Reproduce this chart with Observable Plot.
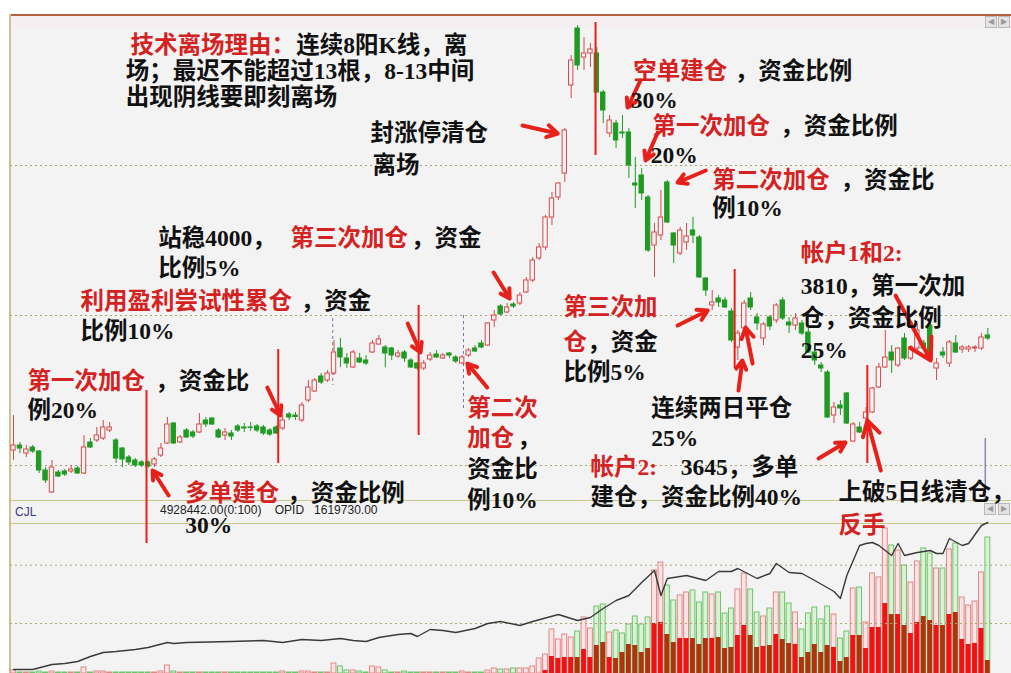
<!DOCTYPE html>
<html><head><meta charset="utf-8">
<script src="https://cdn.jsdelivr.net/npm/d3@7"></script>
<script src="https://cdn.jsdelivr.net/npm/@observablehq/plot@0.6"></script>
<style>
body{margin:0;background:#fff;}
#wrap{position:relative;width:1011px;height:673px;overflow:hidden;background:#fff;font-family:"Liberation Sans",Arial,sans-serif;}
.abs{position:absolute;}
.btn{position:absolute;width:10px;height:10px;border:1px solid #b8b8b8;background:#e4e4e4;color:#9a9a9a;font-size:8px;line-height:10px;text-align:center;}
</style></head><body>
<div id="wrap">
 <div class="abs" style="left:10px;top:14px;width:1001px;height:486px;background:#f3f3f3;"></div>
 <div class="abs" style="left:10px;top:16px;width:1001px;height:11px;background:#f6eff1;"></div>
 <div class="abs" style="left:10px;top:14px;width:1001px;height:2px;background:#b3613c;"></div>
 <div class="abs" style="left:10px;top:500px;width:1001px;height:173px;background:#f3f3f3;"></div>
 <div class="abs" style="left:10px;top:500px;width:1001px;height:1px;background:#c9c88a;"></div>
 <div class="abs" style="left:10px;top:523px;width:1001px;height:1px;background:#c9c88a;"></div>
 <div class="abs" style="left:9px;top:14px;width:2px;height:659px;background:#cdc28a;"></div>
 <div class="abs" style="left:15px;top:505px;font-size:12px;color:#3a3a82;font-family:'Liberation Sans Narrow','Liberation Sans',sans-serif;">CJL</div>
 <div class="abs" style="left:160px;top:503px;font-size:12px;color:#222;font-family:'Liberation Sans Narrow','Liberation Sans',sans-serif;white-space:pre;">4928442.00(0:100)    OPID   1619730.00</div>
 <div class="btn" style="left:985px;top:16px;">&#9664;</div>
 <div class="btn" style="left:998px;top:16px;">&#9654;</div>
 <div class="btn" style="left:984px;top:503px;">&#9664;</div>
 <div class="btn" style="left:998px;top:503px;">&#9654;</div>
 <div id="vol" class="abs" style="left:10px;top:523px;"></div>
 <div id="oi" class="abs" style="left:10px;top:523px;"></div>
 <div id="price" class="abs" style="left:10px;top:14px;"></div>
</div>
<script>
// ---------- candle data (index 0..152) ----------
const OPEN = [3630,3640,3624,3636,3628,3590,3546,3586,3588,3588,
3594,3584,3646,3650,3654,3670,3650,3634,3616,3610,
3606,3606,3602,3620,3644,3684,3646,3670,3666,3666,
3690,3694,3670,3660,3664,3678,3676,3676,3678,3676,
3670,3676,3674,3702,3700,3690,3730,3748,3778,3770,
3784,3834,3814,3796,3814,3810,3826,3842,3836,3834,
3818,3826,3810,3804,3794,3812,3822,3814,3824,3816,
3804,3820,3834,3844,3840,3890,3918,3906,3922,3924,
3946,3970,4014,4036,4096,4136,4184,4360,4474,4416,
4424,4424,4346,4264,4284,4266,4266,4164,4180,4136,
4040,4060,4166,4064,4024,4046,4070,4056,3974,3920,
3934,3930,3908,3836,3874,3934,3896,3854,3896,3890,
3930,3886,3880,3884,3866,3826,3800,3786,3700,3720,
3744,3648,3676,3694,3706,3756,3796,3826,3800,3854,
3814,3834,3844,3880,3794,3826,3804,3844,3832,3832,
3834,3834,3860];
const CLOSE = [3640,3634,3632,3628,3590,3570,3596,3578,3582,3592,
3584,3636,3636,3660,3676,3676,3614,3612,3606,3600,
3600,3598,3612,3634,3682,3644,3656,3656,3658,3682,
3682,3682,3656,3666,3658,3670,3674,3675,3670,3664,
3662,3664,3690,3696,3697,3720,3756,3770,3766,3784,
3826,3816,3804,3826,3806,3804,3844,3852,3824,3820,
3824,3814,3796,3794,3804,3820,3816,3820,3820,3808,
3816,3830,3828,3836,3884,3900,3902,3916,3918,3940,
3970,4010,4036,4096,4134,4164,4270,4410,4400,4424,
4432,4346,4310,4290,4250,4264,4200,4160,4144,4030,
4066,4096,4086,4040,4070,4058,4060,3976,3950,3926,
3926,3916,3850,3864,3924,3916,3884,3882,3878,3920,
3894,3880,3894,3864,3826,3810,3794,3696,3716,3714,
3684,3682,3666,3706,3754,3796,3816,3810,3834,3814,
3836,3870,3834,3820,3804,3820,3846,3826,3836,3836,
3836,3856,3854];
const HIGH = [3700,3646,3640,3640,3630,3596,3610,3590,3592,3600,
3598,3660,3654,3676,3690,3686,3654,3636,3620,3614,
3610,3610,3616,3644,3696,3686,3660,3674,3670,3704,
3696,3696,3674,3674,3670,3682,3684,3686,3682,3680,
3674,3680,3700,3706,3706,3726,3770,3774,3784,3790,
3850,3854,3824,3830,3824,3820,3850,3860,3840,3836,
3830,3830,3814,3806,3810,3826,3830,3824,3826,3820,
3820,3834,3840,3850,3886,3910,3922,3924,3926,3946,
3976,4016,4044,4100,4146,4166,4274,4420,4480,4456,
4444,4436,4350,4300,4290,4300,4274,4216,4194,4140,
4084,4150,4170,4066,4076,4084,4096,4060,3976,3950,
3940,3936,3914,3870,3930,3946,3904,3886,3900,3924,
3936,3896,3904,3890,3874,3840,3806,3790,3726,3730,
3746,3686,3686,3716,3756,3804,3870,3840,3836,3864,
3840,3884,3850,3884,3814,3836,3850,3860,3840,3840,
3840,3864,3874];
const LOW = [3610,3624,3616,3624,3584,3564,3544,3576,3578,3584,
3582,3582,3634,3646,3650,3666,3604,3596,3600,3596,
3596,3594,3596,3616,3642,3642,3644,3654,3654,3664,
3676,3680,3654,3650,3650,3666,3666,3668,3666,3660,
3658,3662,3670,3690,3690,3686,3726,3746,3762,3766,
3780,3796,3794,3794,3804,3800,3824,3840,3796,3810,
3814,3806,3794,3790,3790,3808,3814,3812,3814,3804,
3802,3816,3826,3834,3838,3876,3900,3904,3914,3920,
3944,3966,4010,4030,4080,4130,4166,4334,4390,4390,
4396,4344,4284,4256,4234,4254,4174,4114,4130,4026,
3976,4050,4084,4004,4020,4030,4044,3974,3938,3910,
3916,3914,3846,3810,3870,3910,3870,3840,3870,3884,
3890,3864,3870,3860,3824,3800,3786,3694,3684,3700,
3682,3646,3664,3690,3704,3754,3794,3784,3796,3810,
3810,3830,3830,3814,3770,3814,3796,3824,3824,3826,
3826,3830,3850];
// volume (thousand lots) and the solid inner part of each volume bar
const VOLUME = [108,36,36,36,72,36,72,36,36,36,
36,216,36,72,72,36,36,36,36,36,
36,36,36,72,288,72,36,36,36,36,
36,36,36,36,36,36,36,36,36,36,
36,36,72,36,36,72,72,36,36,36,
360,252,108,108,72,36,252,216,108,36,
36,72,36,36,36,36,36,36,36,36,
72,36,36,36,108,180,144,144,180,180,
180,252,540,684,1584,1224,1404,1296,1512,2016,
1620,2412,2484,1476,1548,1440,1764,2052,1764,2016,
3708,3996,3168,2628,2808,2916,2988,2556,2916,2844,
2916,2160,2340,3024,3600,3024,2196,2052,2340,2916,
2916,2520,2196,1584,2160,2376,1944,2412,2124,1260,
1512,3060,3096,1836,3600,3456,5220,4608,4428,3888,
3276,4032,4500,4320,3780,3780,4464,4680,2736,2448,
2592,3636,4896];
const INNER = [0,0,0,0,0,0,0,0,0,0,
0,0,0,0,0,0,0,0,0,0,
0,0,0,0,0,0,0,0,0,0,
0,0,0,0,0,0,0,0,0,0,
0,0,0,0,0,0,0,0,0,0,
0,0,0,0,0,0,0,0,0,0,
0,0,0,0,0,0,0,0,0,0,
0,0,0,0,0,0,0,0,0,0,
0,0,0,108,612,540,576,576,576,864,
576,1008,1116,576,540,756,1044,1008,756,900,
1800,1836,1404,1116,1260,1260,1260,1044,1260,1260,
1296,900,936,1368,1728,1368,936,972,1008,1404,
1224,1080,1044,576,756,1044,756,1008,936,432,
576,1368,1368,900,1656,1656,2520,2124,2124,1728,
1440,1836,2052,1908,1728,1728,2124,2196,1224,1044,
1080,1620,468];
// open interest (thousand), read at selected candles
const OI_IDX = [0,3,6,8,10,12,14,16,19,21,24,25,27,34,39,42,45,48,51,53,55,57,60,62,63,65,67,69,72,74,76,79,81,85,88,90,92,94,96,98,100,101,102,105,108,110,112,113,116,118,119,121,123,125,128,129,130,132,133,134,135,137,138,139,141,143,144,145,146,148,149,151,152];
const OI_VAL = [885,885,910,915,925,950,970,975,985,995,1020,1015,1020,1025,1030,1020,1035,1030,1040,1030,1025,1045,1060,1065,1050,1085,1080,1070,1090,1115,1125,1105,1125,1160,1130,1145,1190,1230,1255,1320,1380,1255,1340,1355,1330,1375,1375,1390,1340,1365,1415,1370,1365,1330,1275,1240,1355,1505,1515,1520,1505,1455,1515,1455,1470,1480,1465,1465,1540,1505,1515,1605,1620];
// grid levels
const PRICE_GRID = [3600, 3900, 4200];
const VOL_GRID = [1800, 3900];
// annotations: [text, candle position, price]
const RED_NOTES = [
 ["技术离场理由：", 18.25, 4440], ["空单建仓", 96.7, 4388], ["第一次加仓", 99.7, 4278],
 ["第二次加仓", 109.0, 4170], ["第三次加仓", 43.2, 4054], ["利用盈利尝试性累仓", 10.45, 3928],
 ["第一次加仓", 2.2, 3768], ["多单建仓", 26.8, 3544], ["第二次", 70.8, 3714], ["加仓", 70.8, 3654],
 ["第三次加", 85.8, 3916], ["仓", 85.8, 3846], ["帐户2:", 90.0, 3596], ["帐户1和2:", 122.8, 4024],
 ["反手", 128.7, 3480]];
const BLACK_NOTES = [
 ["连续8阳K线，离", 44.1, 4440], ["场；最迟不能超过13根，8-13中间", 17.5, 4388], ["出现阴线要即刻离场", 17.5, 4336],
 ["封涨停清仓", 55.7, 4264], ["离场", 56.0, 4200],
 ["，资金比例", 112.5, 4388], ["30%", 96.3, 4330],
 ["，资金比例", 119.6, 4278], ["20%", 99.4, 4220],
 ["，资金比", 129.0, 4170], ["例10%", 109.0, 4114],
 ["站稳4000，", 22.6, 4054], ["，资金", 62.0, 4054], ["比例5%", 22.6, 3994],
 ["，资金", 44.8, 3928], ["比例10%", 10.45, 3868],
 ["，资金比", 22.1, 3768], ["例20%", 2.2, 3710],
 ["，资金比例", 42.7, 3544], ["30%", 26.8, 3480],
 ["，", 78.6, 3654], ["资金比", 70.8, 3592], ["例10%", 70.8, 3530],
 ["，资金", 89.5, 3846], ["比例5%", 85.8, 3786],
 ["连续两日平仓", 99.5, 3714], ["25%", 99.5, 3654],
 ["3645，多单", 104.1, 3596], ["建仓，资金比例40%", 90.0, 3536],
 ["3810，第一次加", 122.8, 3958], ["仓，资金比例", 122.8, 3894], ["25%", 122.8, 3830],
 ["上破5日线清仓，", 128.7, 3546]];
// arrows: [from position, from price, to position, to price]
const ARROWS = [
 [79.4,4280,84.9,4264], [74.9,3986,77.4,3934], [61.5,3884,63.5,3826], [73.9,3756,70.8,3804],
 [39.6,3756,41.65,3700], [24.2,3540,21.7,3590], [97.8,4370,95.8,4316], [100.5,4266,98.6,4210],
 [108.0,4190,103.6,4166], [103.6,3880,108.3,3910], [113.1,3750,113.7,3810], [115.3,3804,114.2,3876],
 [125.6,3614,129.8,3646], [135.3,3590,133.2,3690], [137.6,3940,143.1,3810]];
// red marker lines: [position, price from, price to]
const RED_LINES = [[20.75,3750,3444],[41.3,3832,3604],[63.2,3920,3660],[90.8,4486,4220],[112.5,3992,3794],[133.2,3800,3604]];
const DASH_LINES = [[49.8,3894,3760],[70.2,3900,3710]];
const MARK_LINE = [[151.6,3654,3530]];

const UPC = "#d24a4a", DNC = "#1f9a22", RED = "#d42222", ARW = "#e8201a";
const FONT = '"Liberation Serif","Noto Sans CJK SC",serif';
const N = OPEN.length;
const candles = d3.range(N).map(i => ({i, open: OPEN[i], close: CLOSE[i], high: HIGH[i], low: LOW[i], up: CLOSE[i] >= OPEN[i], v: VOLUME[i], s: INNER[i]}));
const xDomain = [-0.468, 155.69];
const W = 1001;

const price = Plot.plot({
  width: W, height: 486, margin: 0,
  x: {domain: xDomain, axis: null},
  y: {domain: [3530, 4502], axis: null},
  color: {type: "identity"},
  style: {background: "transparent", overflow: "visible"},
  marks: [
    Plot.ruleY(PRICE_GRID, {stroke: "#a9a374", strokeDasharray: "2,3"}),
    Plot.ruleX(DASH_LINES, {x: d => d[0], y1: d => d[1], y2: d => d[2], stroke: "#7078b0", strokeDasharray: "3,3"}),
    Plot.ruleX(candles, {x: "i", y1: "low", y2: "high", stroke: d => d.up ? UPC : DNC, strokeWidth: 1}),
    Plot.rect(candles, {x1: d => d.i - 0.34, x2: d => d.i + 0.34, y1: "open", y2: "close", fill: d => d.up ? "#fbf3f3" : DNC, stroke: d => d.up ? UPC : DNC, strokeWidth: 1}),
    Plot.ruleX(RED_LINES, {x: d => d[0], y1: d => d[1], y2: d => d[2], stroke: ARW, strokeWidth: 2}),
    Plot.ruleX(MARK_LINE, {x: d => d[0], y1: d => d[1], y2: d => d[2], stroke: "#8a86b8", strokeWidth: 1.5}),
    Plot.arrow(ARROWS, {x1: d => d[0], y1: d => d[1], x2: d => d[2], y2: d => d[3], stroke: ARW, strokeWidth: 4, headLength: 9}),
    Plot.text(BLACK_NOTES, {x: d => d[1], y: d => d[2], text: d => d[0], fill: "#111", textAnchor: "start", lineAnchor: "middle", fontSize: 23.5, fontFamily: FONT, fontWeight: "bold"}),
    Plot.text(RED_NOTES, {x: d => d[1], y: d => d[2], text: d => d[0], fill: RED, textAnchor: "start", lineAnchor: "middle", fontSize: 23.5, fontFamily: FONT, fontWeight: "bold"})
  ]
});
document.getElementById("price").appendChild(price);

const vol = Plot.plot({
  width: W, height: 150, margin: 0,
  x: {domain: xDomain, axis: null},
  y: {domain: [0, 5400], axis: null},
  color: {type: "identity"},
  style: {background: "transparent"},
  marks: [
    Plot.rect(candles, {x1: d => d.i - 0.38, x2: d => d.i + 0.38, y1: 0, y2: "v", fill: d => d.up ? "#fbe4e4" : "#dcf1d6", stroke: d => d.up ? "#e08888" : "#6cc46c", strokeWidth: 1}),
    Plot.rect(candles.filter(d => d.s > 0), {x1: d => d.i - 0.38, x2: d => d.i + 0.38, y1: 0, y2: "s", fill: d => d.up ? "#ee1414" : "#b3320e"}),
    Plot.ruleY(VOL_GRID, {stroke: "#a9a374", strokeDasharray: "2,3"})
  ]
});
document.getElementById("vol").appendChild(vol);

const oiData = OI_IDX.map((i, k) => ({i, oi: OI_VAL[k]}));
const oi = Plot.plot({
  width: W, height: 150, margin: 0,
  x: {domain: xDomain, axis: null},
  y: {domain: [865, 1615], axis: null},
  style: {background: "transparent", overflow: "visible"},
  marks: [
    Plot.line(oiData, {x: "i", y: "oi", stroke: "#3a3a3a", strokeWidth: 1.4})
  ]
});
document.getElementById("oi").appendChild(oi);
</script>
</body></html>
